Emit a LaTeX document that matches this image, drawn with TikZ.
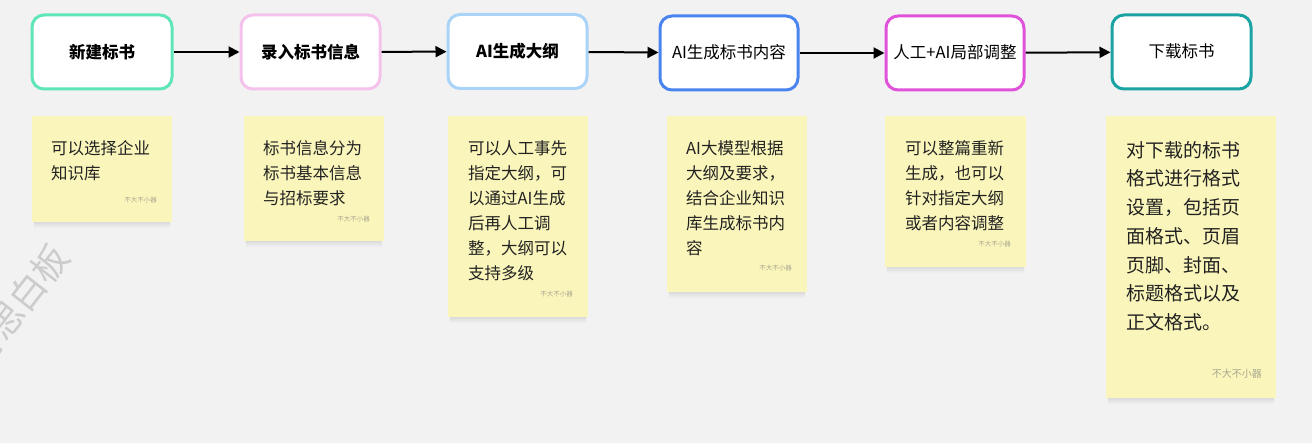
\documentclass[tikz,border=0pt]{standalone}
\usepackage{fontspec}
\setmainfont{Noto Sans CJK SC}
\usetikzlibrary{arrows.meta}
\definecolor{bgc}{HTML}{F2F2F2}
\definecolor{cmint}{HTML}{5EE6B8}
\definecolor{cpink}{HTML}{F4C2EC}
\definecolor{clblue}{HTML}{A9D3F7}
\definecolor{cblue}{HTML}{4A84EE}
\definecolor{cmag}{HTML}{E052D9}
\definecolor{cteal}{HTML}{1BA3A3}
\definecolor{notec}{HTML}{FAF6BB}
\definecolor{txtc}{HTML}{222222}
\definecolor{tagc}{HTML}{A8A690}
\definecolor{shc}{HTML}{DCDCDC}
\tikzset{
  stepbox/.style={draw, line width=3pt, rounded corners=12pt, fill=white,
    minimum height=74pt, inner sep=0pt, text=black, text depth=2pt,
    font=\fontsize{16.5}{20}\selectfont},
  notebox/.style={fill=notec, minimum height=#1, inner sep=0pt},
  noteshadow/.style={top color=shc, bottom color=bgc},
  notetext/.style={anchor=north west, inner sep=0pt, align=left, text=txtc,
    font=\fontsize{16.5}{25}\selectfont},
  bignotetext/.style={anchor=north west, inner sep=0pt, align=left, text=txtc,
    font=\fontsize{19}{28.7}\selectfont},
  tag/.style={anchor=east, inner sep=0pt, text=tagc, font=\fontsize{6.5}{8}\selectfont},
  flow/.style={-{Triangle[length=11pt,width=11pt]}, line width=2pt, black},
}
\begin{document}
\begin{tikzpicture}[x=1pt,y=-1pt]
\fill[bgc] (0,0) rectangle (1312,443);
\useasboundingbox (0,0) rectangle (1312,443);
% watermark
\node[rotate=52, text=black!20, font=\fontsize{36}{38}\selectfont, inner sep=0pt] (wm) at (17,306) {博思白板};
% step boxes
\node[stepbox, draw=cmint, minimum width=140pt, font=\fontsize{16.5}{20}\selectfont\bfseries] (s1) at (102,52) {新建标书};
\node[stepbox, draw=cpink, minimum width=139pt, font=\fontsize{16.5}{20}\selectfont\bfseries] (s2) at (310.5,52) {录入标书信息};
\node[stepbox, draw=clblue, minimum width=139pt, font=\fontsize{16.5}{20}\selectfont\bfseries] (s3) at (517.5,51.5) {AI生成大纲};
\node[stepbox, draw=cblue, minimum width=138pt] (s4) at (729,53) {AI生成标书内容};
\node[stepbox, draw=cmag, minimum width=138pt] (s5) at (955,53) {人工+AI局部调整};
\node[stepbox, draw=cteal, minimum width=139pt] (s6) at (1181.5,52) {下载标书};
\draw[flow] (s1) -- (s2);
\draw[flow] (s2) -- (s3);
\draw[flow] (s3) -- (s4);
\draw[flow] (s4) -- (s5);
\draw[flow] (s5) -- (s6);
% notes
\node[notebox=106pt, minimum width=140pt] (n1) at (102,169) {};
\node[notebox=125pt, minimum width=140pt] (n2) at (314,178.5) {};
\node[notebox=201pt, minimum width=140pt] (n3) at (518,216.5) {};
\node[notebox=176pt, minimum width=140pt] (n4) at (737,204) {};
\node[notebox=151pt, minimum width=141pt] (n5) at (955.5,191.5) {};
\node[notebox=282pt, minimum width=170pt] (n6) at (1191,257) {};
\foreach \n in {n1,n2,n3,n4,n5,n6}{
  \shade[noteshadow] ([xshift=2pt]\n.south west) rectangle ([xshift=-2pt,yshift=-6pt]\n.south east);
}
% note texts
\node[notetext] (t1) at (51,140) {可以选择企业\\知识库};
\node[notetext] (t2) at (263,140) {标书信息分为\\标书基本信息\\与招标要求};
\node[notetext] (t3) at (468,140) {可以人工事先\\指定大纲，可\\以通过AI生成\\后再人工调\\整，大纲可以\\支持多级};
\node[notetext] (t4) at (686,140) {AI大模型根据\\大纲及要求，\\结合企业知识\\库生成标书内\\容};
\node[notetext] (t5) at (905,140) {可以整篇重新\\生成，也可以\\针对指定大纲\\或者内容调整};
\node[bignotetext] (t6) at (1126,141) {对下载的标书\\格式进行格式\\设置，包括页\\面格式、页眉\\页脚、封面、\\标题格式以及\\正文格式。};
% tags
\node[tag] (g1) at (157,200) {不大不小器};
\node[tag] (g2) at (370,219) {不大不小器};
\node[tag] (g3) at (573,294) {不大不小器};
\node[tag] (g4) at (792,268) {不大不小器};
\node[tag] (g5) at (1011,244) {不大不小器};
\node[tag, font=\fontsize{10}{12}\selectfont] (g6) at (1262,374) {不大不小器};
\end{tikzpicture}
\end{document}
